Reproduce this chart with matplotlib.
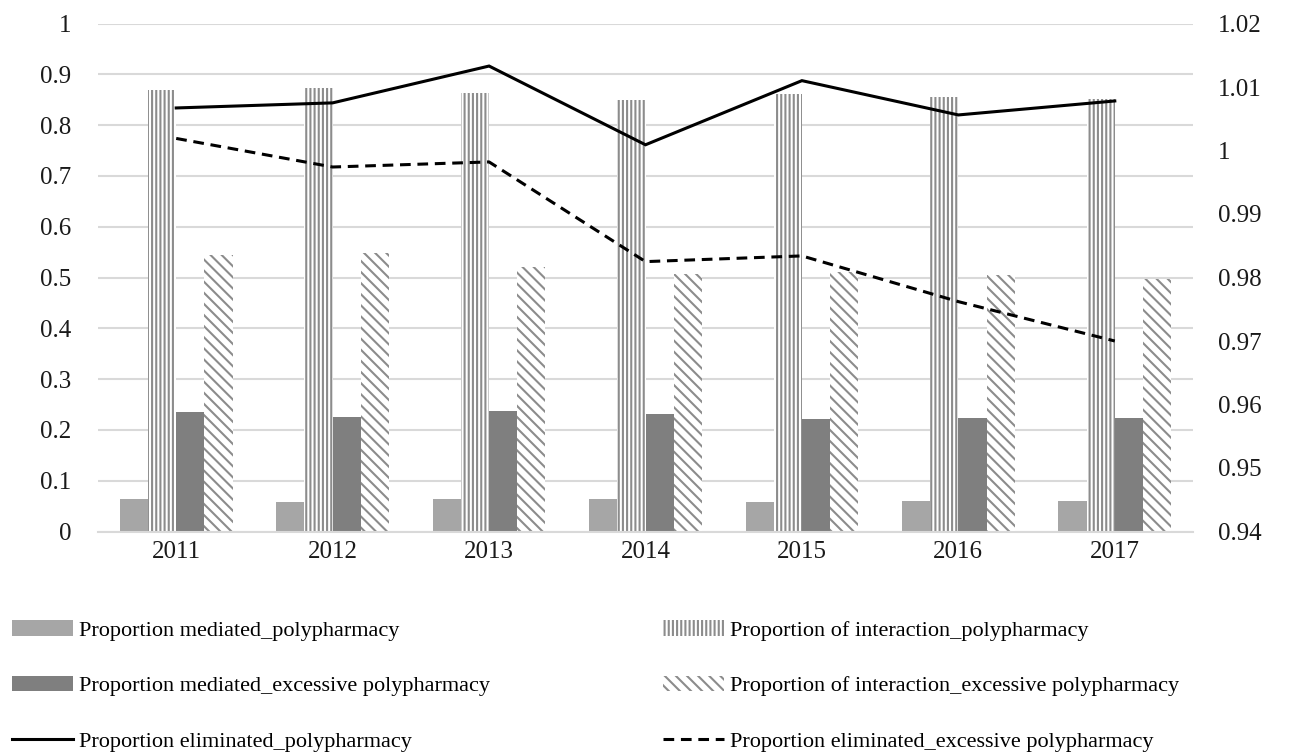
import matplotlib
matplotlib.use("Agg")
import matplotlib.pyplot as plt
import numpy as np
from matplotlib.patches import Patch
from matplotlib.lines import Line2D

years = ["2011", "2012", "2013", "2014", "2015", "2016", "2017"]
mediated_poly = [0.064, 0.058, 0.064, 0.064, 0.058, 0.061, 0.061]
interaction_poly = [0.869, 0.873, 0.864, 0.850, 0.861, 0.856, 0.852]
mediated_exc = [0.236, 0.225, 0.238, 0.232, 0.221, 0.224, 0.224]
interaction_exc = [0.544, 0.548, 0.521, 0.506, 0.510, 0.505, 0.498]
eliminated_poly = [1.0067, 1.0075, 1.0133, 1.0009, 1.0110, 1.0056, 1.0078]
eliminated_exc = [1.0019, 0.9974, 0.9982, 0.9825, 0.9834, 0.9762, 0.9700]

left_ticks = [0, 0.1, 0.2, 0.3, 0.4, 0.5, 0.6, 0.7, 0.8, 0.9, 1]
left_labels = ["0", "0.1", "0.2", "0.3", "0.4", "0.5", "0.6", "0.7", "0.8", "0.9", "1"]
right_ticks = [0.94, 0.95, 0.96, 0.97, 0.98, 0.99, 1.00, 1.01, 1.02]
right_labels = ["0.94", "0.95", "0.96", "0.97", "0.98", "0.99", "1", "1.01", "1.02"]

labels = ["Proportion mediated_polypharmacy",
          "Proportion of interaction_polypharmacy",
          "Proportion mediated_excessive polypharmacy",
          "Proportion of interaction_excessive polypharmacy",
          "Proportion eliminated_polypharmacy",
          "Proportion eliminated_excessive polypharmacy"]

plt.rcParams['font.family'] = ['Liberation Serif', 'DejaVu Serif']
plt.rcParams['hatch.color'] = '#8c8c8c'
plt.rcParams['hatch.linewidth'] = 1.5

BS = chr(92)
hatch_vert = '||||'
hatch_diag = BS * 3

W, H = 1292, 752
fig = plt.figure(figsize=(W / 100, H / 100), dpi=100)
ax = fig.add_axes([98 / W, 1 - 531.5 / H, (1193 - 98) / W, (531.5 - 23.5) / H])
ax2 = ax.twinx()

x = np.arange(len(years))
bw = 0.18
c_light = '#a6a6a6'
c_dark = '#7f7f7f'
c_hatch = '#8c8c8c'

ax.bar(x - 1.5 * bw, mediated_poly, bw, color=c_light, linewidth=0)
ax.bar(x - 0.5 * bw, interaction_poly, bw, facecolor='white', edgecolor=c_hatch,
       hatch=hatch_vert, linewidth=0)
ax.bar(x + 0.5 * bw, mediated_exc, bw, color=c_dark, linewidth=0)
ax.bar(x + 1.5 * bw, interaction_exc, bw, facecolor='white', edgecolor=c_hatch,
       hatch=hatch_diag, linewidth=0)

ax2.plot(x, eliminated_poly, color='black', lw=2.2, solid_joinstyle='miter')
ax2.plot(x, eliminated_exc, color='black', lw=2.2, linestyle=(0, (3.5, 2.2)))

ax.set_xlim(-0.5, len(years) - 0.5)
ax.set_ylim(0, 1)
ax2.set_ylim(0.94, 1.02)
ax.set_yticks(left_ticks)
ax.set_yticklabels(left_labels)
ax2.set_yticks(right_ticks)
ax2.set_yticklabels(right_labels)
ax.set_xticks(x)
ax.set_xticklabels(years)

ax.yaxis.grid(True, color='#d9d9d9', lw=1.5)
ax.set_axisbelow(True)
for a in (ax, ax2):
    for s in ['top', 'left', 'right', 'bottom']:
        a.spines[s].set_visible(False)
ax.spines['bottom'].set_visible(True)
ax.spines['bottom'].set_color('#d9d9d9')
ax.spines['bottom'].set_linewidth(1.5)

ax.tick_params(axis='y', length=0, pad=19, labelsize=18, colors='#1a1a1a')
ax2.tick_params(axis='y', length=0, pad=18, labelsize=18, colors='#1a1a1a')
ax.tick_params(axis='x', length=0, pad=7, labelsize=18, colors='#1a1a1a')

h_med = Patch(facecolor=c_light, edgecolor='none')
h_int = Patch(facecolor='white', edgecolor=c_hatch, hatch=hatch_vert, linewidth=0)
h_medx = Patch(facecolor=c_dark, edgecolor='none')
h_intx = Patch(facecolor='white', edgecolor=c_hatch, hatch=hatch_diag, linewidth=0)
h_el = Line2D([], [], color='black', lw=2.2)
h_elx = Line2D([], [], color='black', lw=2.2, linestyle=(0, (3.5, 2.2)))

common = dict(frameon=False, fontsize=16, handlelength=2.75, handletextpad=0.25,
              labelspacing=1.58, borderpad=0, borderaxespad=0, loc='upper left')
fig.legend([h_med, h_medx, h_el], [labels[0], labels[2], labels[4]],
           bbox_to_anchor=(12 / W, 1 - 620 / H), **common)
fig.legend([h_int, h_intx, h_elx], [labels[1], labels[3], labels[5]],
           bbox_to_anchor=(663 / W, 1 - 620 / H), **common)

fig.savefig("out.png", dpi=100)
